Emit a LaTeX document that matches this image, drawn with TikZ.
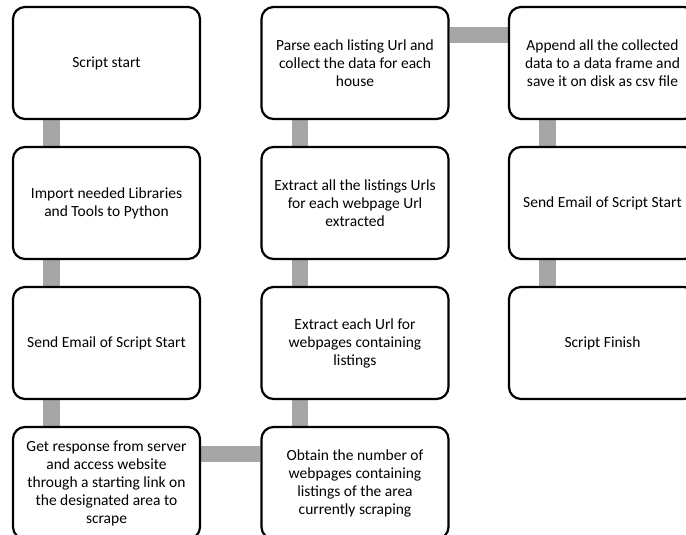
\documentclass[tikz,border=0pt]{standalone}
\usepackage{fontspec}
\setmainfont{Carlito}
\usetikzlibrary{backgrounds}
\definecolor{linkgray}{RGB}{166,166,166}
\tikzset{
  stepbox/.style={draw=black, fill=white, line width=2.2pt, rounded corners=12pt,
    minimum width=187pt, minimum height=112pt, align=center, inner sep=4pt,
    font=\fontsize{15.5pt}{18pt}\selectfont},
  link/.style={draw=linkgray, line width=16.5pt, line cap=butt}
}
\begin{document}
\begin{tikzpicture}[x=1pt, y=-1pt]
\useasboundingbox (0,0) rectangle (686,535);
% column 1
\node[stepbox] (c1r1) at (106.5,63)  {Script start};
\node[stepbox] (c1r2) at (106.5,203) {Import needed Libraries\\and Tools to Python};
\node[stepbox] (c1r3) at (106.5,343) {Send Email of Script Start};
\node[stepbox] (c1r4) at (106.5,483) {Get response from server\\and access website\\through a starting link on\\the designated area to\\scrape};
% column 2
\node[stepbox] (c2r1) at (355,63)  {Parse each listing Url and\\collect the data for each\\house};
\node[stepbox] (c2r2) at (355,203) {Extract all the listings Urls\\for each webpage Url\\extracted};
\node[stepbox] (c2r3) at (355,343) {Extract each Url for\\webpages containing\\listings};
\node[stepbox] (c2r4) at (355,483) {Obtain the number of\\webpages containing\\listings of the area\\currently scraping};
% column 3
\node[stepbox] (c3r1) at (602.5,63)  {Append all the collected\\data to a data frame and\\save it on disk as csv file};
\node[stepbox] (c3r2) at (602.5,203) {Send Email of Script Start};
\node[stepbox] (c3r3) at (602.5,343) {Script Finish};
% connectors behind the boxes
\begin{scope}[on background layer]
  \draw[link] ([xshift=-55pt]c1r1.south) -- ([xshift=-55pt]c1r2.north);
  \draw[link] ([xshift=-55pt]c1r2.south) -- ([xshift=-55pt]c1r3.north);
  \draw[link] ([xshift=-55pt]c1r3.south) -- ([xshift=-55pt]c1r4.north);
  \draw[link] ([yshift=29pt]c1r4.east) -- ([yshift=29pt]c2r4.west);
  \draw[link] ([xshift=-55pt]c2r4.north) -- ([xshift=-55pt]c2r3.south);
  \draw[link] ([xshift=-55pt]c2r3.north) -- ([xshift=-55pt]c2r2.south);
  \draw[link] ([xshift=-55pt]c2r2.north) -- ([xshift=-55pt]c2r1.south);
  \draw[link] ([yshift=28pt]c2r1.east) -- ([yshift=28pt]c3r1.west);
  \draw[link] ([xshift=-55pt]c3r1.south) -- ([xshift=-55pt]c3r2.north);
  \draw[link] ([xshift=-55pt]c3r2.south) -- ([xshift=-55pt]c3r3.north);
\end{scope}
\end{tikzpicture}
\end{document}
